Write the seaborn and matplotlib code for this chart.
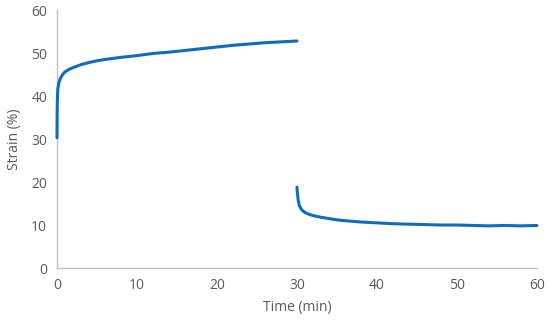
import matplotlib
matplotlib.use("Agg")
import matplotlib.pyplot as plt
import seaborn as sns
import pandas as pd

# creep phase (load on)
creep_time = [0, 0.02, 0.05, 0.1, 0.2, 0.4, 0.7, 1, 1.5, 2, 3, 4, 5, 6, 8,
              10, 12, 14, 16, 18, 20, 22, 24, 26, 28, 30]
creep_strain = [30.3, 36.0, 39.5, 41.5, 42.8, 44.0, 45.0, 45.6, 46.2, 46.6,
                47.3, 47.8, 48.2, 48.5, 49.0, 49.4, 49.9, 50.2, 50.6, 51.0,
                51.4, 51.8, 52.1, 52.4, 52.6, 52.8]

# recovery phase (load off)
recovery_time = [30, 30.05, 30.15, 30.3, 30.6, 31, 31.5, 32, 33, 34, 35, 36,
                 38, 40, 42, 44, 46, 48, 50, 52, 54, 56, 58, 60]
recovery_strain = [18.8, 17.5, 15.8, 14.5, 13.5, 12.9, 12.5, 12.2, 11.8, 11.5,
                   11.2, 11.0, 10.7, 10.5, 10.3, 10.2, 10.1, 10.0, 10.0, 9.9,
                   9.8, 9.9, 9.8, 9.9]

x_ticks = [0, 10, 20, 30, 40, 50, 60]
y_ticks = [0, 10, 20, 30, 40, 50, 60]

df = pd.concat([
    pd.DataFrame({"time": creep_time, "strain": creep_strain, "phase": "creep"}),
    pd.DataFrame({"time": recovery_time, "strain": recovery_strain, "phase": "recovery"}),
])

sns.set_style("white")
plt.rcParams["font.family"] = ["Open Sans", "DejaVu Sans"]

grey = "#595959"
blue = "#0F6CBD"

fig = plt.figure(figsize=(5.5, 3.24), dpi=100)
ax = fig.add_axes([0.1036, 0.1728, 0.8727, 0.7962])

for phase, part in df.groupby("phase"):
    sns.lineplot(data=part, x="time", y="strain", sort=False, ax=ax,
                 color=blue, linewidth=2.2, legend=False)

# keep the t=0 edge of the curve fully visible over the spine
for line in ax.get_lines():
    line.set_clip_on(False)
    line.set_zorder(3)

ax.set_xlim(0, 60)
ax.set_ylim(0, 60)
ax.set_xticks(x_ticks)
ax.set_yticks(y_ticks)
ax.tick_params(length=0, labelsize=10, labelcolor=grey, pad=7)
ax.set_xlabel("Time (min)", fontsize=10, color=grey, labelpad=5)
ax.set_ylabel("Strain (%)", fontsize=10, color=grey, labelpad=7)

for side in ["top", "right"]:
    ax.spines[side].set_visible(False)
for side in ["left", "bottom"]:
    ax.spines[side].set_color("#BFBFBF")
    ax.spines[side].set_linewidth(1.0)
    ax.spines[side].set_zorder(1)

fig.savefig("out.png", dpi=100)
